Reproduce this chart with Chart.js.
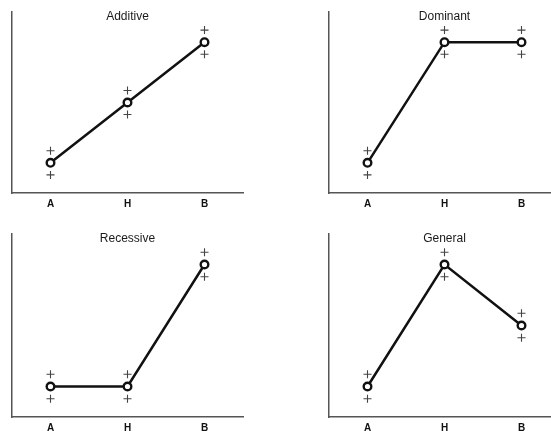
<!DOCTYPE html>
<html>
<head>
<meta charset="utf-8">
<script src="https://cdn.jsdelivr.net/npm/chart.js@4/dist/chart.umd.min.js"></script>
<style>
  html, body { margin: 0; padding: 0; width: 551px; height: 431px; overflow: hidden; background: #fff; }
  .panel { position: absolute; }
</style>
</head>
<body>
<div class="panel" id="p1" style="left:10px;top:11px;width:235px;height:202px;"><canvas id="c1"></canvas></div>
<div class="panel" id="p2" style="left:327px;top:11px;width:235px;height:202px;"><canvas id="c2"></canvas></div>
<div class="panel" id="p3" style="left:10px;top:233px;width:235px;height:204px;"><canvas id="c3"></canvas></div>
<div class="panel" id="p4" style="left:327px;top:233px;width:235px;height:204px;"><canvas id="c4"></canvas></div>
<script>
const genotypes = ['A', 'H', 'B'];
const titles = ['Additive', 'Dominant', 'Recessive', 'General'];
const additive  = [1, 2, 3];
const dominant  = [1, 3, 3];
const recessive = [1, 1, 3];
const general   = [1, 3, 2];
const spread = 0.2;
const yMin = 0.5, yMax = 3.5;

const titlePlugin = {
  id: 'innerTitle',
  afterDraw(chart, args, opts) {
    const ctx = chart.ctx, a = chart.chartArea;
    ctx.save();
    ctx.font = '12px "Liberation Sans", Arial, sans-serif';
    ctx.fillStyle = '#1a1a1a';
    ctx.textAlign = 'center';
    ctx.textBaseline = 'middle';
    ctx.fillText(opts.text, (a.left + a.right) / 2, a.top + 5);
    ctx.restore();
  }
};

function makeChart(id, title, vals) {
  const upper = vals.map(v => v + spread);
  const lower = vals.map(v => v - spread);
  new Chart(document.getElementById(id), {
    type: 'line',
    data: {
      labels: genotypes,
      datasets: [
        { data: vals, borderColor: '#111', borderWidth: 2.5, pointStyle: 'circle',
          pointRadius: 3.8, pointBorderWidth: 2.4, pointBackgroundColor: '#fff',
          pointBorderColor: '#111', tension: 0, order: 0, clip: false },
        { data: upper, showLine: false, pointStyle: 'cross', pointRadius: 4,
          pointBorderWidth: 1.1, pointBorderColor: '#444', order: 1, clip: false },
        { data: lower, showLine: false, pointStyle: 'cross', pointRadius: 4,
          pointBorderWidth: 1.1, pointBorderColor: '#444', order: 1, clip: false }
      ]
    },
    options: {
      responsive: true, maintainAspectRatio: false, animation: false,
      layout: { autoPadding: false, padding: { left: 2, right: 2, top: 1, bottom: 0 } },
      plugins: { legend: { display: false }, tooltip: { enabled: false }, innerTitle: { text: title } },
      scales: {
        x: {
          offset: true,
          grid: { display: false, drawTicks: false },
          border: { display: true, color: '#555', width: 1.5 },
          ticks: { color: '#111', font: { family: '"Liberation Sans", Arial, sans-serif', size: 10, weight: 'bold' }, padding: 5 },
          afterFit(s) { s.height = 20; }
        },
        y: {
          min: yMin, max: yMax,
          grid: { display: false, drawTicks: false },
          border: { display: true, color: '#555', width: 1.5 },
          ticks: { display: false },
          afterFit(s) { s.width = 0; }
        }
      }
    },
    plugins: [titlePlugin]
  });
}

makeChart('c1', titles[0], additive);
makeChart('c2', titles[1], dominant);
makeChart('c3', titles[2], recessive);
makeChart('c4', titles[3], general);
</script>
</body>
</html>
